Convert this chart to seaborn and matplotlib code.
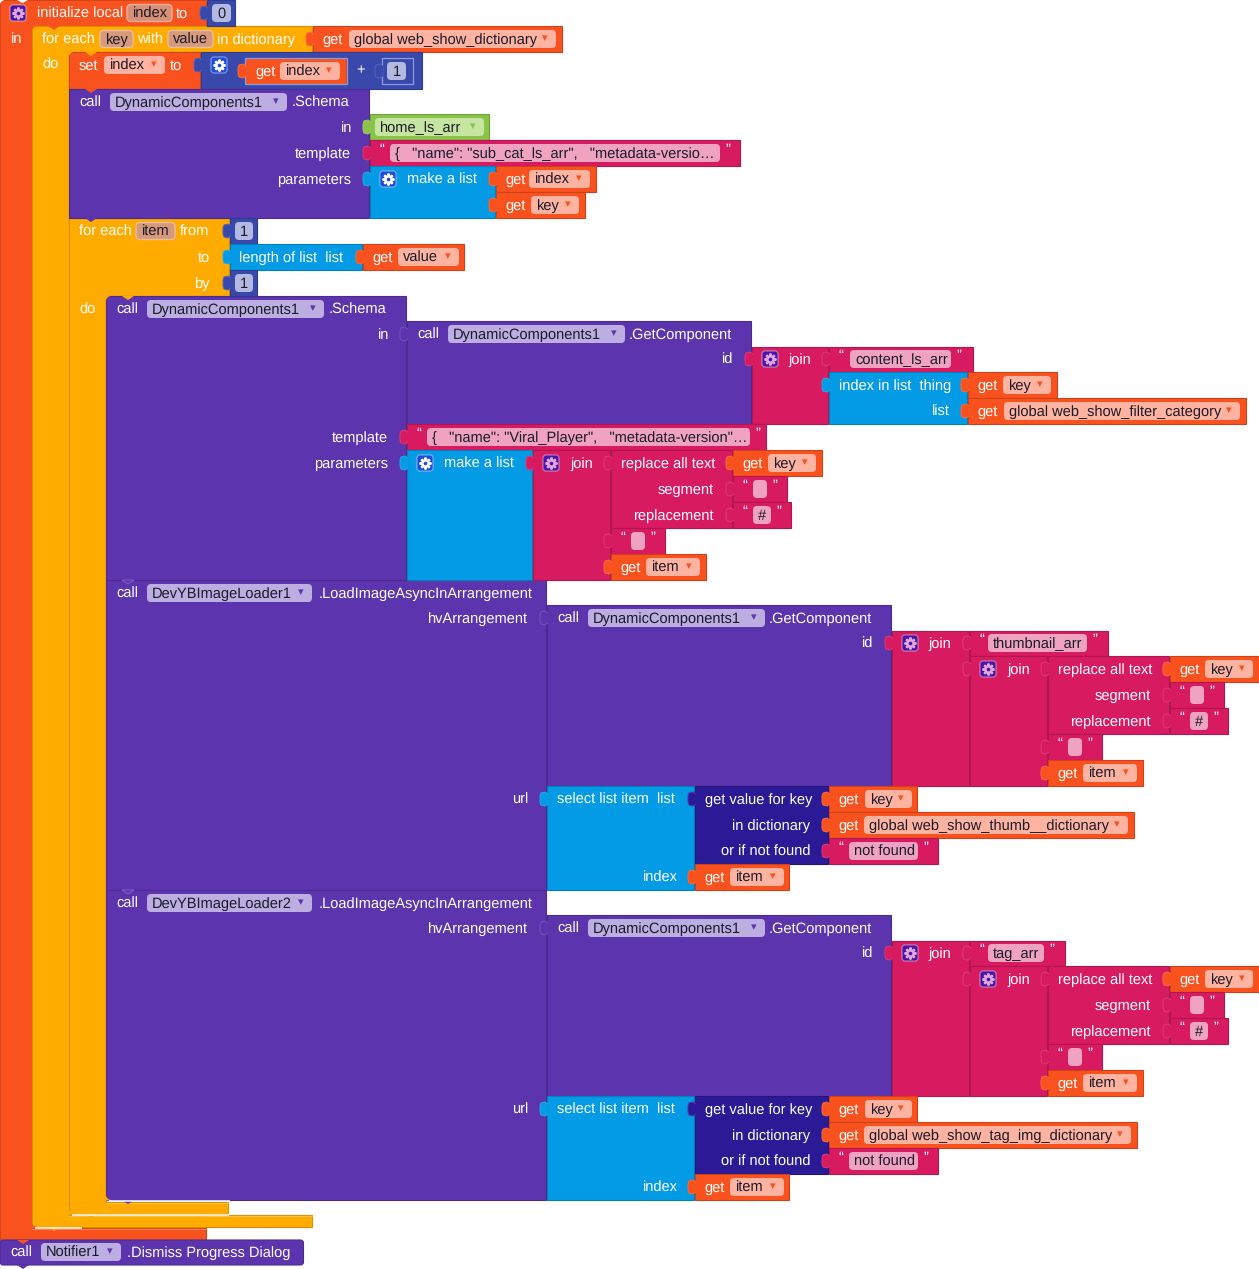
"""
App Inventor blocks screenshot redrawn with matplotlib / seaborn
"""

import matplotlib
matplotlib.use('Agg')
import matplotlib.pyplot as plt
from matplotlib.patches import FancyBboxPatch, Polygon, Rectangle
import seaborn as sns

# block labels
VARIABLES = ['index', 'key', 'value', 'item']
GLOBALS = ['global web_show_dictionary', 'global web_show_filter_category',
           'global web_show_thumb__dictionary', 'global web_show_tag_img_dictionary']
COMPONENTS = ['DynamicComponents1', 'DevYBImageLoader1', 'DevYBImageLoader2', 'Notifier1']
TEXTS = ['{   "name": "sub_cat_ls_arr",   "metadata-versio…',
         '{   "name": "Viral_Player",   "metadata-version"…',
         'content_ls_arr', 'thumbnail_arr', 'tag_arr', 'not found', '#', '']
NUMBERS = ['0', '1']
LIST_NAME = 'home_ls_arr'

sns.set_theme(style='white')
plt.rcParams['font.family'] = ['Liberation Sans', 'DejaVu Sans']
plt.rcParams['text.hinting'] = 'no_hinting'

palette = sns.color_palette(['#F9521F', '#FFAB00', '#5C35AE', '#D81B60', '#039BE5',
                             '#3949AB', '#2A1A96', '#8BC34A'])
ORANGE, AMBER, PURPLE, PINK, BLUE, INDIGO, NAVY, GREEN = palette
FS = 10.5
WHITE = '#FFFFFF'
DARK = '#1A1A2A'
JOIN_BOX = '#4A14A8'
LIST_BOX = '#1A4BE0'

fig = plt.figure(figsize=(12.59, 12.69), dpi=100)
ax = fig.add_axes([0, 0, 1, 1])
ax.set_xlim(0, 1259)
ax.set_ylim(1269, 0)
ax.axis('off')
sns.despine(ax=ax, left=True, bottom=True)


def shade(color, f):
    r, g, b = matplotlib.colors.to_rgb(color)
    if f > 1:
        return (r + (1 - r) * (f - 1), g + (1 - g) * (f - 1), b + (1 - b) * (f - 1))
    return (r * f, g * f, b * f)


def block(x0, y0, x1, y1, color, z=1):
    ax.add_patch(Rectangle((x0, y0), x1 - x0 - 0.5, y1 - y0 - 0.5, fc=color,
                           ec=shade(color, 0.82), lw=0.8, zorder=z))


def c_block(x0, y0, head_x1, head_y1, bar_x1, foot_y0, foot_x1, foot_y1, color, z=1):
    # head + left bar + foot drawn as one outline
    pts = [(x0, y0), (head_x1 - 0.5, y0), (head_x1 - 0.5, head_y1), (bar_x1, head_y1),
           (bar_x1, foot_y0), (foot_x1 - 0.5, foot_y0), (foot_x1 - 0.5, foot_y1 - 0.5),
           (x0, foot_y1 - 0.5)]
    ax.add_patch(Polygon(pts, fc=color, ec=shade(color, 0.85), lw=0.8, zorder=z))
    ax.plot([bar_x1, foot_x1 - 1], [foot_y0 + 0.8, foot_y0 + 0.8], color=shade(color, 1.25),
            lw=0.8, zorder=z)


def notch(x, y, color, z=4.2, ec='none'):
    # little bump under a statement block
    ax.add_patch(Polygon([(x, y), (x + 3, y + 2), (x + 6, y + 4), (x + 9, y + 2), (x + 12, y)],
                         fc=color, ec=ec, lw=0.7, zorder=z))


def corner_top(x, y, color, z=4.5):
    ax.add_patch(Polygon([(x - 0.5, y - 0.5), (x + 6, y - 0.5), (x + 3, y + 0.5), (x + 1, y + 2),
                          (x, y + 4), (x - 0.5, y + 6)], fc=color, ec='none', zorder=z))


def corner_bottom(x, y, color, z=4.5):
    ax.add_patch(Polygon([(x - 0.5, y + 0.5), (x + 6, y + 0.5), (x + 3, y - 0.5), (x + 1, y - 2),
                          (x, y - 4), (x - 0.5, y - 6)], fc=color, ec='none', zorder=z))


def under_glow(x0, x1, y):
    # white highlight line along the underside of a foot
    ax.plot([x0 + 3, x1], [y + 0.5, y + 0.5], color=WHITE, lw=1.1, zorder=4.6,
            solid_capstyle='butt')


def tab(x, yc, color, z=4):
    pts = [(x + 1, yc - 5), (x - 2, yc - 7), (x - 6, yc - 6), (x - 7, yc - 3), (x - 7, yc + 3),
           (x - 6, yc + 6), (x - 2, yc + 7), (x + 1, yc + 5)]
    ax.add_patch(Polygon(pts, closed=False, fc=color, ec=shade(color, 1.14), lw=0.7, zorder=z))


def label(x, yc, s, color=WHITE, ha='left', z=6):
    ax.text(x, yc + 5, s, color=color, ha=ha, va='baseline', fontsize=FS, zorder=z)


def field(x0, x1, yc, s, fc, arrow=None, ec='none', h=18):
    ax.add_patch(FancyBboxPatch((x0, yc - h / 2), x1 - x0, h, boxstyle='round,pad=0,rounding_size=4',
                                fc=fc, ec=ec, lw=1.0, zorder=5))
    if s:
        label(x0 + 5, yc, s, color=DARK)
    if arrow is not None:
        ax.text(x1 - 11, yc - 0.5, '▾', color=arrow, ha='center', va='center',
                fontsize=8, family='DejaVu Sans', zorder=6)


def gear(x, yc, color, tint=WHITE):
    ax.add_patch(FancyBboxPatch((x, yc - 8), 16, 16, boxstyle='round,pad=0,rounding_size=3',
                                fc=color, ec=(1, 1, 1, 0.4), lw=0.9, zorder=5))
    cx = x + 8
    ax.plot([cx], [yc], marker='o', ms=6.5, mew=0, color=tint, zorder=6)
    ax.plot([cx], [yc], marker=(8, 2, 0), ms=8.5, mew=1.6, color=tint, zorder=6)
    ax.plot([cx], [yc], marker='o', ms=2.6, mew=0, color=color, zorder=7)


def var_field(x0, x1, yc, s, fc='#D98F75', ec='#E8AE98'):
    field(x0, x1, yc, s, fc, ec=ec, h=17)


def get_block(x0, x1, y0, name, fx0, fx1):
    block(x0, y0, x1, y0 + 26, ORANGE, z=2)
    tab(x0, y0 + 13, ORANGE)
    label(x0 + 9.5, y0 + 13, 'get')
    field(fx0, fx1, y0 + 13, name, '#FFB3A0', arrow='#F9521F')


def text_block(x0, x1, y0, s, fx0, fx1, h=26):
    block(x0, y0, x1, y0 + h, PINK, z=2)
    yc = y0 + h // 2
    tab(x0, yc, PINK)
    label(x0 + 9, yc - 4, '“')
    field(fx0, fx1, yc, s, '#F0A3C0')
    label(fx1 + 5, yc - 4, '”')


def number_block(x0, x1, y0, s, h=26, color=INDIGO):
    block(x0, y0, x1, y0 + h, color, z=2)
    tab(x0, y0 + h / 2, INDIGO)
    field(x0 + 5, x1 - 5, y0 + h / 2, '', '#B3B9E0')
    label((x0 + x1) / 2, y0 + h / 2, s, color=DARK, ha='center')


def call_field(x0, x1, yc, s):
    field(x0, x1, yc, s, '#BDAEE2', arrow=PURPLE)


def join_replace(x, y, var_key, var_item):
    # the join(replace all text(...), "", get item) stack, x = left of the join block
    block(x, y, x + 78, y + 130, PINK, z=2)
    gear(x + 10, y + 13, JOIN_BOX, '#E2A6DC')
    label(x + 37, y + 13, 'join')
    block(x + 78, y, x + 200, y + 78, PINK, z=2)
    tab(x + 78, y + 13, PINK)
    label(x + 88, y + 13, 'replace all text')
    label(x + 181, y + 39, 'segment', ha='right')
    label(x + 181, y + 65, 'replacement', ha='right')
    get_block(x + 200, x + 290, y, var_key, x + 235, x + 283)
    text_block(x + 200, x + 255, y + 26, TEXTS[7], x + 220, x + 234)
    text_block(x + 200, x + 259, y + 52, TEXTS[6], x + 220, x + 238)
    text_block(x + 78, x + 133, y + 78, TEXTS[7], x + 98, x + 112)
    get_block(x + 78, x + 174, y + 104, var_item, x + 113, x + 167)


def get_component(x, y, h, name):
    block(x, y, x + 345, y + h, PURPLE, z=2)
    label(x + 10, y + 13, 'call')
    call_field(x + 41, x + 218, y + 13, name)
    label(x + 222, y + 13, '.GetComponent')
    label(x + 325, y + 38, 'id', ha='right')
    tab(x, y + 13, PURPLE)


def loader(y, name, head_text, text_x1, glob, glob_x1):
    # one LoadImageAsyncInArrangement call with everything plugged into it
    block(106, y, 547, y + 310, PURPLE, z=1.5)
    notch(122, y, PURPLE, ec=shade(PURPLE, 1.2))
    label(116, y + 13, 'call')
    call_field(147, 312, y + 13, name)
    label(319, y + 13, '.LoadImageAsyncInArrangement')
    label(528, y + 38, 'hvArrangement', ha='right')
    label(528, y + 219, 'url', ha='right')

    get_component(547, y + 25, 181, COMPONENTS[0])
    block(892, y + 51, 970, y + 206, PINK, z=2)
    tab(892, y + 63, PINK)
    gear(902, y + 63, JOIN_BOX, '#E2A6DC')
    label(928, y + 63, 'join')
    text_block(970, text_x1, y + 51, head_text, 988, text_x1 - 22, h=25)
    tab(970, y + 63, PINK)
    join_replace(970, y + 76, VARIABLES[1], VARIABLES[3])
    tab(970, y + 89, PINK)

    block(547, y + 206, 695, y + 310, BLUE, z=2)
    tab(547, y + 219, BLUE)
    label(557, y + 219, 'select list item  list')
    label(677, y + 297, 'index', ha='right')
    block(695, y + 206, 829, y + 284, NAVY, z=2)
    tab(695, y + 219, NAVY)
    label(705, y + 219, 'get value for key')
    label(810, y + 245, 'in dictionary', ha='right')
    label(810, y + 271, 'or if not found', ha='right')
    get_block(829, 918, y + 206, VARIABLES[1], 865, 912)
    get_block(829, glob_x1, y + 232, glob, 864, glob_x1 - 7)
    text_block(829, 939, y + 258, TEXTS[5], 849, 918)
    get_block(695, 790, y + 284, VARIABLES[3], 730, 784)


# outer C blocks
c_block(0, 0, 207, 26, 32, 1228, 207, 1240, ORANGE)
c_block(32, 26, 313, 52, 69, 1215, 313, 1227, AMBER, z=1.1)
ax.add_patch(Polygon([(17, 0), (22.5, 3), (28, 0)], fc=WHITE, ec='none', zorder=4))
corner_top(0, 0, WHITE)
corner_top(32, 26, ORANGE)
corner_bottom(32, 1227, ORANGE)
under_glow(32, 82, 1227)
notch(17, 1240, ORANGE)
notch(48, 1227, AMBER)
notch(48, 26, ORANGE)

gear(10, 13, JOIN_BOX, '#E2A6DC')
label(37, 13, 'initialize local')
var_field(127, 172, 13, VARIABLES[0])
label(176, 13, 'to')
number_block(207, 236, 0, NUMBERS[0])
label(10, 38, 'in')

label(42, 39, 'for each')
var_field(100, 133, 39, VARIABLES[1], fc='#D69A7A', ec='#E8BE9E')
label(137, 39, 'with')
var_field(168, 213, 39, VARIABLES[2], fc='#D69A7A', ec='#E8BE9E')
label(217, 39, 'in dictionary')
get_block(313, 563, 26, GLOBALS[0], 349, 556)
label(42, 64, 'do')

# set index
block(69, 52, 201, 89, ORANGE, z=2)
corner_top(69, 52, AMBER)
notch(85, 52, AMBER)
label(79, 65, 'set')
field(104, 165, 65, VARIABLES[0], '#FFB3A0', arrow='#F9521F')
label(170, 65, 'to')
block(201, 52, 423, 89, INDIGO, z=2)
tab(201, 65, INDIGO)
gear(211, 65, LIST_BOX)
block(245, 58, 347, 84, ORANGE, z=3)
ax.add_patch(Rectangle((245, 58), 102, 26, fc='none', ec='#8C9BE0', lw=0.9, zorder=4))
tab(245, 71, ORANGE)
label(255, 71, 'get')
field(280, 340, 71, VARIABLES[0], '#FFB3A0', arrow='#F9521F')
label(356, 69, '+')
ax.add_patch(Rectangle((382, 58), 31, 26, fc=INDIGO, ec='#8C9BE0', lw=0.9, zorder=4))
tab(382, 71, INDIGO)
field(387, 406, 71, '', '#B3B9E0')
label(396.5, 71, NUMBERS[1], color=DARK, ha='center')

# first Schema call
block(69, 89, 370, 218, PURPLE, z=2)
notch(85, 89, ORANGE)
label(79, 102, 'call')
call_field(110, 287, 102, COMPONENTS[0])
label(292, 102, '.Schema')
label(351, 127, 'in', ha='right')
label(351, 153, 'template', ha='right')
label(351, 179, 'parameters', ha='right')
block(370, 114, 490, 140, GREEN, z=2)
tab(370, 127, GREEN)
field(375, 484, 127, LIST_NAME, '#C5E5A0', arrow=GREEN)
text_block(370, 741, 140, TEXTS[0], 390, 720)
block(370, 166, 496, 218, BLUE, z=2)
tab(370, 179, BLUE)
gear(380, 179, LIST_BOX)
label(407, 179, 'make a list')
get_block(496, 597, 166, VARIABLES[0], 529, 590)
get_block(496, 586, 192, VARIABLES[1], 531, 579)

# for each item
c_block(69, 218, 230, 296, 106, 1202, 229, 1214, AMBER, z=1.2)
notch(85, 218, PURPLE)
notch(85, 1214, AMBER)
corner_bottom(69, 1214, AMBER)
under_glow(69, 229, 1214)
label(79, 231, 'for each')
var_field(136, 175, 231, VARIABLES[3], fc='#D69A7A', ec='#E8BE9E')
label(180, 231, 'from')
label(210, 257, 'to', ha='right')
label(210, 283, 'by', ha='right')
label(79, 309, 'do')
number_block(230, 258, 218, NUMBERS[1])
block(230, 244, 363, 270, BLUE, z=2)
tab(230, 257, BLUE)
label(239, 257, 'length of list  list')
get_block(363, 465, 244, VARIABLES[2], 398, 459)
number_block(230, 258, 270, NUMBERS[1])

# Schema call inside the loop
block(106, 296, 407, 580, PURPLE, z=1.5)
corner_top(106, 296, AMBER)
notch(122, 296, AMBER)
label(116, 309, 'call')
call_field(147, 324, 309, COMPONENTS[0])
label(329, 309, '.Schema')
label(388, 334, 'in', ha='right')
label(388, 437, 'template', ha='right')
label(388, 463, 'parameters', ha='right')
get_component(407, 321, 103, COMPONENTS[0])
block(752, 347, 829, 424, PINK, z=2)
tab(752, 359, PINK)
gear(762, 359, JOIN_BOX, '#E2A6DC')
label(788, 359, 'join')
text_block(829, 974, 347, TEXTS[2], 850, 951, h=25)
block(829, 372, 968, 424, BLUE, z=2)
tab(829, 385, BLUE)
label(839, 385, 'index in list  thing')
label(949, 411, 'list', ha='right')
get_block(968, 1058, 372, VARIABLES[1], 1003, 1051)
get_block(968, 1247, 398, GLOBALS[1], 1004, 1240)
text_block(407, 767, 424, TEXTS[1], 427, 750)
block(407, 450, 533, 580, BLUE, z=2)
tab(407, 463, BLUE)
gear(417, 463, LIST_BOX)
label(444, 463, 'make a list')
join_replace(533, 450, VARIABLES[1], VARIABLES[3])
tab(533, 463, PINK)

# image loaders
loader(580, COMPONENTS[1], TEXTS[3], 1109, GLOBALS[2], 1135)
loader(890, COMPONENTS[2], TEXTS[4], 1066, GLOBALS[3], 1138)
corner_bottom(106, 1200, AMBER)
under_glow(106, 230, 1200)
notch(122, 1200, PURPLE)

# last call
ax.add_patch(FancyBboxPatch((0, 1240), 303.5, 25, boxstyle='round,pad=0,rounding_size=3',
                            fc=PURPLE, ec=shade(PURPLE, 0.82), lw=0.8, zorder=2))
notch(17, 1265, PURPLE)
label(10, 1252, 'call')
call_field(41, 121, 1252, COMPONENTS[3])
label(127, 1252, '.Dismiss Progress Dialog')

fig.savefig('out.png', dpi=100)
plt.close(fig)
